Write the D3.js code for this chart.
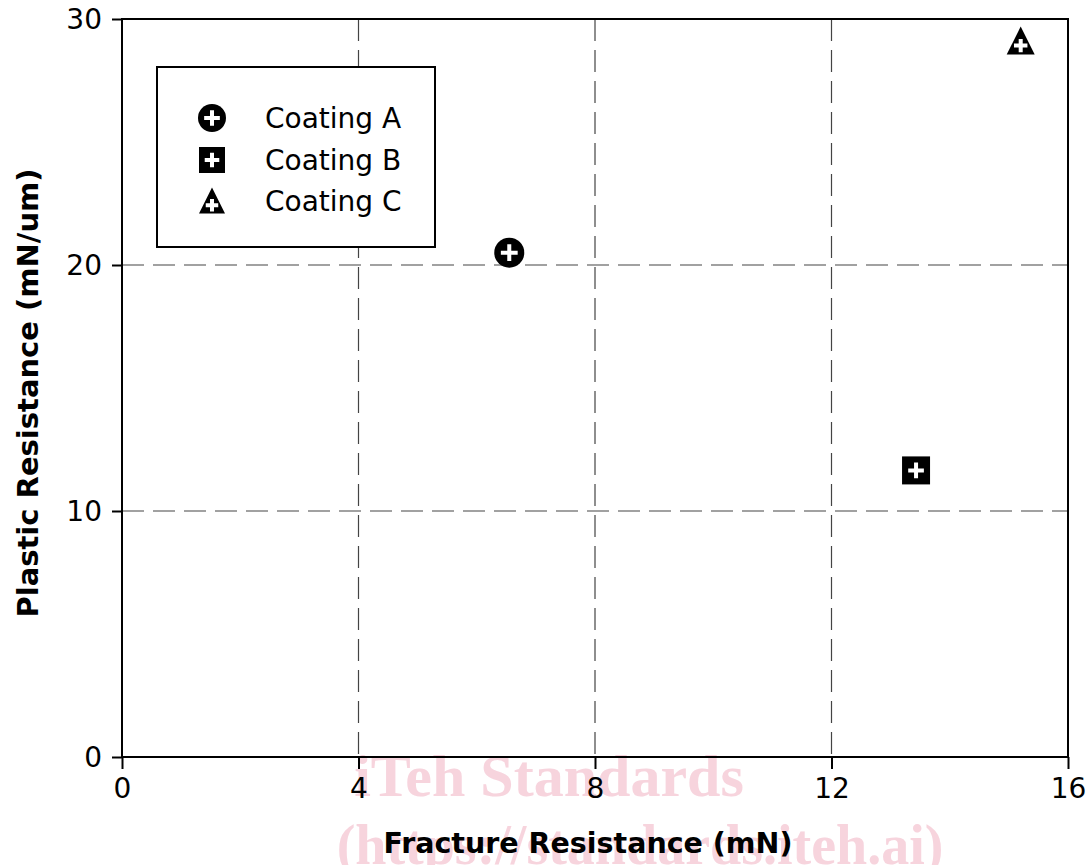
<!DOCTYPE html>
<html><head><meta charset="utf-8">
<script src="https://cdn.jsdelivr.net/npm/d3@7"></script>
<style>body{margin:0;background:#fff}svg{display:block}</style>
</head><body><svg id="c" width="1092" height="865"></svg>
<script>
const seriesNames = ["Coating A","Coating B","Coating C"];
const seriesShapes = ["circle","square","triangle"];
const fractureResistance = [6.55, 13.43, 15.2];
const plasticResistance = [20.5, 11.65, 29.1];
const xTicks = [0,4,8,12,16];
const yTicks = [0,10,20,30];

const SANS = "'DejaVu Sans',Verdana,sans-serif";
const SERIF = "'Liberation Serif','DejaVu Serif',serif";
const svg = d3.select("#c").style("font-family",SANS);
const L=122, R=1068, T=19, B=757;
const x = d3.scaleLinear().domain([0,16]).range([L,R]);
const y = d3.scaleLinear().domain([0,30]).range([B,T]);

// watermark
const wm = svg.append("g").attr("fill","#f6cdd8").attr("opacity",0.85);
wm.append("text").attr("x",549).attr("y",796).attr("text-anchor","middle").attr("font-size",60)
  .style("font-family",SERIF).attr("font-weight","bold").text("iTeh Standards");
wm.append("text").attr("x",640).attr("y",864).attr("text-anchor","middle").attr("font-size",56)
  .style("font-family",SERIF).attr("font-weight","bold").text("(https://standards.iteh.ai)");

// grid
const grid = svg.append("g").attr("stroke","#444").attr("stroke-width",1.2).attr("stroke-dasharray","22,9");
grid.selectAll(".gx").data(xTicks.slice(1,-1)).join("line")
  .attr("x1",d=>x(d)).attr("x2",d=>x(d)).attr("y1",T).attr("y2",B);
grid.selectAll(".gy").data(yTicks.slice(1,-1)).join("line")
  .attr("y1",d=>y(d)).attr("y2",d=>y(d)).attr("x1",L).attr("x2",R);

// frame
svg.append("rect").attr("x",L).attr("y",T).attr("width",R-L).attr("height",B-T)
  .attr("fill","none").attr("stroke","#000").attr("stroke-width",2);

// axes
const xAxis = svg.append("g").attr("transform",`translate(0,${B})`)
  .call(d3.axisBottom(x).tickValues(xTicks).tickSize(12).tickSizeOuter(0).tickPadding(9));
const yAxis = svg.append("g").attr("transform",`translate(${L},0)`)
  .call(d3.axisLeft(y).tickValues(yTicks).tickSize(10).tickSizeOuter(0).tickPadding(10));
[xAxis,yAxis].forEach(a=>{
  a.select(".domain").remove();
  a.selectAll("line").attr("stroke","#000").attr("stroke-width",2);
  a.selectAll("text").attr("font-size",28).attr("fill","#000").style("font-family",SANS);
});
yAxis.selectAll("text").attr("dy","0.35em");

// axis titles
svg.append("text").attr("x",588).attr("y",853).attr("text-anchor","middle")
  .attr("font-size",28.5).attr("font-weight","bold").text("Fracture Resistance (mN)");
svg.append("text").attr("transform",`translate(38,${393}) rotate(-90)`).attr("text-anchor","middle")
  .attr("font-size",29).attr("font-weight","bold").text("Plastic Resistance (mN/um)");

function marker(g, shape, cx, cy, s){
  if(shape==="circle") g.append("circle").attr("cx",cx).attr("cy",cy).attr("r",s*0.5).attr("fill","#000");
  else if(shape==="square") g.append("rect").attr("x",cx-s/2).attr("y",cy-s/2).attr("width",s).attr("height",s).attr("fill","#000");
  else g.append("path").attr("d",`M${cx},${cy-s*0.52}L${cx+s*0.5},${cy+s*0.48}L${cx-s*0.5},${cy+s*0.48}Z`).attr("fill","#000");
  const h = shape==="triangle"? s*0.24 : s*0.28, oy = shape==="triangle"? s*0.16:0;
  g.append("path").attr("d",`M${cx-h},${cy+oy}H${cx+h}M${cx},${cy+oy-h}V${cy+oy+h}`)
    .attr("stroke","#fff").attr("stroke-width",4);
}

const markerSize = {circle:30, square:28, triangle:28};
const pts = svg.append("g");
seriesNames.forEach((n,i)=>{
  marker(pts, seriesShapes[i], x(fractureResistance[i]), y(plasticResistance[i]), markerSize[seriesShapes[i]]);
});

// legend
const lg = svg.append("g");
lg.append("rect").attr("x",157).attr("y",67).attr("width",278).attr("height",180)
  .attr("fill","#fff").attr("stroke","#000").attr("stroke-width",2);
const rowY = [118,160,201];
seriesNames.forEach((n,i)=>{
  marker(lg, seriesShapes[i], 212, rowY[i], seriesShapes[i]==="circle"?28:26);
  lg.append("text").attr("x",265).attr("y",rowY[i]).attr("dy","0.35em").attr("font-size",28).text(n);
});
</script></body></html>
